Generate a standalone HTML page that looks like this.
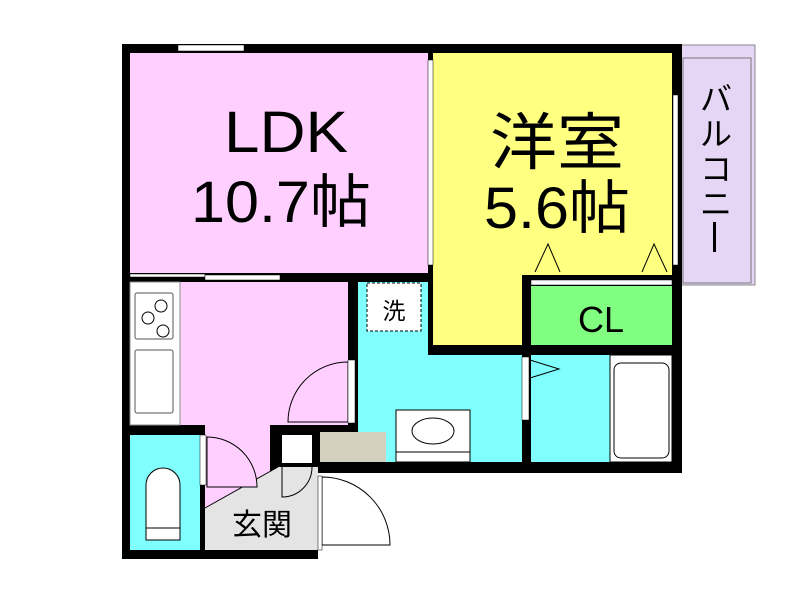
<!DOCTYPE html>
<html><head><style>body{margin:0;background:#fff}svg{display:block}</style></head><body>
<svg width="800" height="600" viewBox="0 0 800 600" xmlns="http://www.w3.org/2000/svg" font-family="Liberation Sans, Noto Sans CJK JP, sans-serif">
<rect width="800" height="600" fill="#fff"/>
<rect x="680" y="45" width="75" height="240" fill="#e6d6f6" stroke="#888" stroke-width="1"/>
<rect x="683" y="58" width="68" height="225" fill="none" stroke="#777" stroke-width="1"/>
<rect x="122" y="44" width="560" height="429" fill="#000"/>
<rect x="122" y="473" width="196" height="86" fill="#000"/>
<rect x="130" y="53" width="298" height="220" fill="#ffd0ff"/>
<rect x="433" y="53" width="239" height="222" fill="#ffff80"/>
<rect x="433" y="270" width="89" height="75" fill="#ffff80"/>
<rect x="531" y="280" width="141" height="5" fill="#fff" stroke="#000" stroke-width="0.5"/>
<rect x="531" y="286" width="141" height="59" fill="#80ff80"/>
<polyline points="535,272 548,244 560,272" fill="none" stroke="#000" stroke-width="1"/>
<polyline points="642,272 654,244 667,272" fill="none" stroke="#000" stroke-width="1"/>
<rect x="130" y="282" width="218" height="143" fill="#ffd0ff"/>
<rect x="205" y="425" width="65" height="125" fill="#ffd0ff"/>
<rect x="130" y="282" width="50" height="143" fill="#fff" stroke="#888" stroke-width="1"/>
<rect x="135" y="293" width="38" height="46" fill="#fff" stroke="#555" rx="2"/>
<circle cx="161" cy="306" r="6" fill="none" stroke="#000"/>
<circle cx="148" cy="318" r="6" fill="none" stroke="#000"/>
<circle cx="163" cy="331" r="6" fill="none" stroke="#000"/>
<rect x="135" y="350" width="38" height="63" fill="#fff" stroke="#555" rx="2"/>
<rect x="358" y="282" width="70" height="180" fill="#80ffff"/>
<rect x="358" y="355" width="164" height="107" fill="#80ffff"/>
<rect x="367" y="283" width="54" height="48" fill="#fff" stroke="#000" stroke-dasharray="3,2"/>
<text x="394" y="319" font-size="23" text-anchor="middle">洗</text>
<rect x="396" y="410" width="74" height="52" fill="#fff" stroke="#000"/>
<ellipse cx="433" cy="431" rx="21" ry="13" fill="none" stroke="#000"/>
<line x1="396" y1="452" x2="470" y2="452" stroke="#000"/>
<rect x="531" y="355" width="141" height="107" fill="#80ffff"/>
<rect x="610" y="355" width="62" height="107" fill="#fff" stroke="#000"/>
<rect x="614" y="363" width="55" height="95" rx="7" fill="none" stroke="#000"/>
<polyline points="530,360 559,369 530,378" fill="none" stroke="#000"/>
<rect x="522" y="357" width="7" height="63" fill="#fff" stroke="#000" stroke-width="0.5"/>
<rect x="130" y="435" width="70" height="115" fill="#80ffff"/>
<path d="M146,540 V485 a17,17 0 0 1 34,0 V540 Z" fill="#fff" stroke="#000"/>
<line x1="146" y1="528" x2="180" y2="528" stroke="#000"/>
<polygon points="205,508 278,467 318,467 318,550 205,550" fill="#e4e4e4"/>
<line x1="205" y1="508" x2="278" y2="467" stroke="#000"/>
<text x="262" y="535" font-size="30" text-anchor="middle">玄関</text>
<rect x="320" y="432" width="66" height="30" fill="#d4d0c0"/>
<rect x="282" y="435" width="30" height="28" fill="#fff"/>
<rect x="318" y="473" width="82" height="90" fill="#fff"/>
<path d="M322,477 A68,68 0 0 1 390,545 H322 Z" fill="#fff" stroke="#000"/>
<rect x="318" y="476" width="4" height="74" fill="#fff" stroke="#000" stroke-width="0.5"/>
<path d="M348,362 A60,60 0 0 0 288,422 H348 Z" fill="#ffd0ff" stroke="#000"/>
<rect x="348" y="360" width="7" height="63" fill="#fff" stroke="#000" stroke-width="0.5"/>
<path d="M207,437 A50,50 0 0 1 257,487 H207 Z" fill="#ffd0ff" stroke="#000"/>
<rect x="200" y="435" width="6" height="50" fill="#fff" stroke="#000" stroke-width="0.5"/>
<path d="M282,467 V497 A30,30 0 0 0 312,467" fill="#e4e4e4" stroke="#000"/>
<rect x="178" y="45" width="66" height="6" fill="#fff" stroke="#000" stroke-width="0.5"/>
<rect x="428" y="60" width="5" height="205" fill="#fff" stroke="#000" stroke-width="0.5"/>
<rect x="673" y="95" width="5" height="170" fill="#fff" stroke="#000" stroke-width="0.5"/>
<rect x="130" y="274" width="75" height="3" fill="#fff" stroke="#000" stroke-width="0.5"/>
<rect x="205" y="275" width="75" height="5" fill="#fff" stroke="#000" stroke-width="0.5"/>
<text x="286" y="152" font-size="58" text-anchor="middle" textLength="124" lengthAdjust="spacingAndGlyphs">LDK</text>
<text x="281" y="222" font-size="58" text-anchor="middle" textLength="180" lengthAdjust="spacingAndGlyphs">10.7帖</text>
<text x="557" y="164" font-size="62" text-anchor="middle" textLength="134" lengthAdjust="spacingAndGlyphs">洋室</text>
<text x="557" y="228" font-size="58" text-anchor="middle" textLength="146" lengthAdjust="spacingAndGlyphs">5.6帖</text>
<text x="601" y="332" font-size="36" text-anchor="middle">CL</text>
<text x="716" y="110" font-size="32" text-anchor="middle">バ</text>
<text x="716" y="145" font-size="32" text-anchor="middle">ル</text>
<text x="716" y="180" font-size="32" text-anchor="middle">コ</text>
<text x="716" y="215" font-size="32" text-anchor="middle">ニ</text>
<rect x="713" y="222" width="3" height="30" fill="#000"/>
</svg>
</body></html>
